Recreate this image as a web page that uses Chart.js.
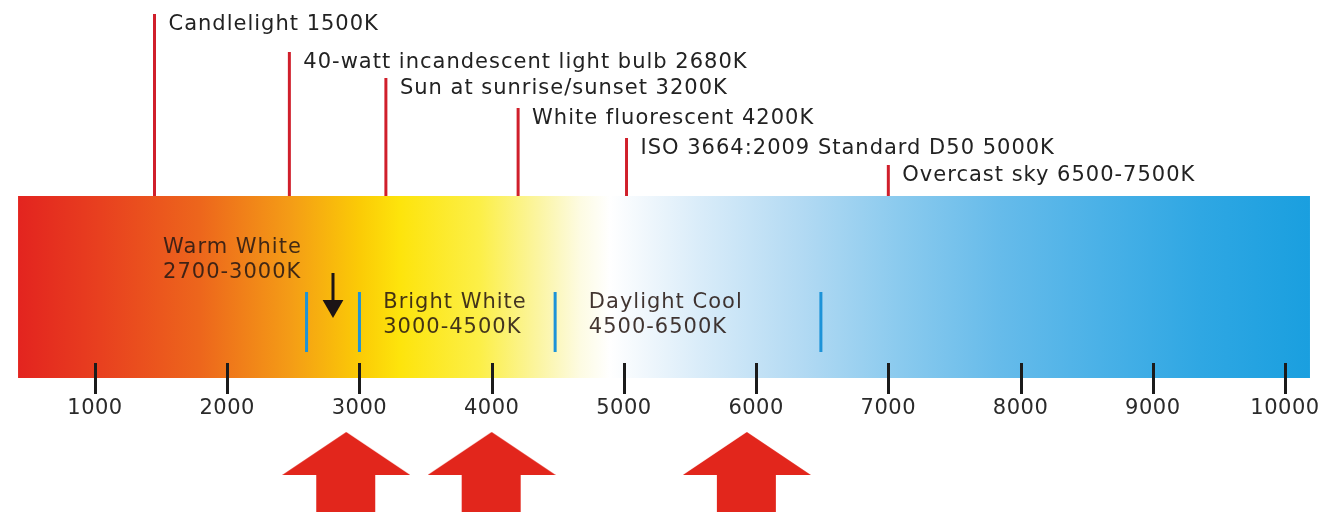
<!DOCTYPE html>
<html>
<head>
<meta charset="utf-8">
<title>Colour temperature scale</title>
<script src="https://cdn.jsdelivr.net/npm/chart.js@4.4.1/dist/chart.umd.min.js"></script>
<style>
  html, body { margin: 0; padding: 0; background: #fff; }
  #wrap { position: relative; width: 1325px; height: 512px; }
</style>
</head>
<body>
<div id="wrap"><canvas id="kelvin-chart"></canvas></div>
<script>
// Kelvin scale under the bar
const tickValues = [1000, 2000, 3000, 4000, 5000, 6000, 7000, 8000, 9000, 10000];

// Light sources marked above the bar (K where the line is drawn)
const sourceNames = [
  'Candlelight 1500K',
  '40-watt incandescent light bulb 2680K',
  'Sun at sunrise/sunset 3200K',
  'White fluorescent 4200K',
  'ISO 3664:2009 Standard D50 5000K',
  'Overcast sky 6500-7500K'
];
const sourceK = [1450, 2470, 3200, 4200, 5020, 7000];

// Bulb ranges inside the bar
const bandNames = ['Warm White', 'Bright White', 'Daylight Cool'];
const bandRanges = ['2700-3000K', '3000-4500K', '4500-6500K'];
const dividerK = [2600, 3000, 4480, 6490];
const warmArrowK = 2800;

// Picks shown with the big red arrows
const pickK = [2900, 4000, 5930];

// Colour of the bar along the scale
const spectrumK = [418, 1038, 1794, 2475, 3004, 3307, 3912, 4366, 4668, 4895, 5198, 5576, 6332, 7088, 7845, 8601, 9357, 10189];
const spectrumColors = ['#e3241f', '#e8401f', '#ed661c', '#f49c16', '#fbcb06', '#fde40c', '#fcef48', '#fbf5a4', '#fdfbe2', '#ffffff',
  '#eef6fc', '#d9ecf9', '#b3daf3', '#8acaee', '#66bbea', '#4ab1e7', '#2fa7e3', '#1a9fdf'];

// layout (y in pixel rows of the 512 high picture)
const X_MIN = 281.5, X_MAX = 10302.6;
const BAND_TOP = 196, BAND_BOTTOM = 378;
const sourceTops = [14, 52, 78, 108, 138, 165];
const bandLabelK = [1515, 3180, 4735];
const bandLabelRow = [248, 303, 303];
const DIVIDER_TOP = 292, DIVIDER_BOTTOM = 352;
const TICK_TOP = 363, TICK_BOTTOM = 394, TICK_LABEL = 409;
const PICK_ROW = 474;

function spectrumFill(context) {
  const chart = context.chart;
  const x = chart.scales.x;
  if (!chart.chartArea || !x) return '#f5a015';
  const k0 = spectrumK[0], k1 = spectrumK[spectrumK.length - 1];
  const g = chart.ctx.createLinearGradient(x.getPixelForValue(k0), 0, x.getPixelForValue(k1), 0);
  spectrumK.forEach((k, i) => g.addColorStop((k - k0) / (k1 - k0), spectrumColors[i]));
  return g;
}

function makeArrow() {
  const c = document.createElement('canvas');
  c.width = 128;
  c.height = 84;
  const g = c.getContext('2d');
  g.fillStyle = '#e2261c';
  g.beginPath();
  g.moveTo(64, 0);
  g.lineTo(128, 43);
  g.lineTo(93, 43);
  g.lineTo(93, 84);
  g.lineTo(34, 84);
  g.lineTo(34, 43);
  g.lineTo(0, 43);
  g.closePath();
  g.fill();
  return c;
}

const datasets = [];

// the spectrum bar
datasets.push({
  data: [{x: spectrumK[0], y: BAND_TOP}, {x: spectrumK[spectrumK.length - 1], y: BAND_TOP}],
  borderColor: 'transparent',
  borderWidth: 0,
  pointRadius: 0,
  fill: {value: BAND_BOTTOM},
  backgroundColor: spectrumFill,
  order: 99
});

// red source lines
sourceK.forEach((k, i) => {
  datasets.push({
    data: [{x: k, y: BAND_TOP}, {x: k, y: sourceTops[i]}],
    borderColor: '#d01f2b',
    borderWidth: 3,
    pointRadius: 0
  });
});

// blue range dividers
dividerK.forEach(k => {
  datasets.push({
    data: [{x: k, y: DIVIDER_TOP}, {x: k, y: DIVIDER_BOTTOM}],
    borderColor: '#1d93d8',
    borderWidth: 3,
    pointRadius: 0
  });
});

// small black arrow for warm white
datasets.push({
  data: [{x: warmArrowK, y: 273}, {x: warmArrowK, y: 306}],
  borderColor: '#1c1416',
  borderWidth: 3,
  pointRadius: [0, 12],
  pointStyle: 'triangle',
  pointRotation: 180,
  pointBackgroundColor: '#1c1416',
  pointBorderWidth: 0
});

// big red arrows
const arrowImg = makeArrow();
datasets.push({
  data: pickK.map(k => ({x: k, y: PICK_ROW})),
  showLine: false,
  pointStyle: arrowImg,
  pointRadius: 2
});

const annotate = {
  id: 'annotate',
  afterDatasetsDraw(chart) {
    const {ctx, scales: {x, y}} = chart;
    ctx.save();
    ctx.letterSpacing = '1px';
    ctx.textBaseline = 'middle';
    ctx.textAlign = 'left';
    ctx.font = '21px "DejaVu Sans"';
    ctx.fillStyle = '#222';
    sourceNames.forEach((name, i) => {
      ctx.fillText(name, x.getPixelForValue(sourceK[i]) + 14, y.getPixelForValue(sourceTops[i]) + 11);
    });

    ctx.fillStyle = 'rgba(40, 25, 20, 0.88)';
    bandNames.forEach((name, i) => {
      const px = x.getPixelForValue(bandLabelK[i]);
      ctx.fillText(name, px, y.getPixelForValue(bandLabelRow[i]));
      ctx.fillText(bandRanges[i], px, y.getPixelForValue(bandLabelRow[i] + 25));
    });

    // tick marks and labels
    ctx.strokeStyle = '#1b1b1b';
    ctx.lineWidth = 3;
    ctx.beginPath();
    tickValues.forEach(v => {
      const px = Math.round(x.getPixelForValue(v)) + 0.5;
      ctx.moveTo(px, y.getPixelForValue(TICK_TOP));
      ctx.lineTo(px, y.getPixelForValue(TICK_BOTTOM));
    });
    ctx.stroke();

    ctx.textAlign = 'center';
    ctx.letterSpacing = '0.5px';
    ctx.font = '21px "DejaVu Sans"';
    ctx.fillStyle = '#2a2a2a';
    tickValues.forEach(v => {
      ctx.fillText(String(v), x.getPixelForValue(v), y.getPixelForValue(TICK_LABEL));
    });
    ctx.restore();
  }
};

new Chart(document.getElementById('kelvin-chart'), {
  type: 'line',
  data: {datasets},
  options: {
    responsive: true,
    maintainAspectRatio: false,
    animation: false,
    events: [],
    layout: {padding: 0, autoPadding: false},
    elements: {line: {tension: 0}},
    scales: {
      x: {type: 'linear', min: X_MIN, max: X_MAX, display: false},
      y: {type: 'linear', min: 0, max: 512, reverse: true, display: false}
    },
    plugins: {
      legend: {display: false},
      tooltip: {enabled: false}
    }
  },
  plugins: [annotate]
});
</script>
</body>
</html>
